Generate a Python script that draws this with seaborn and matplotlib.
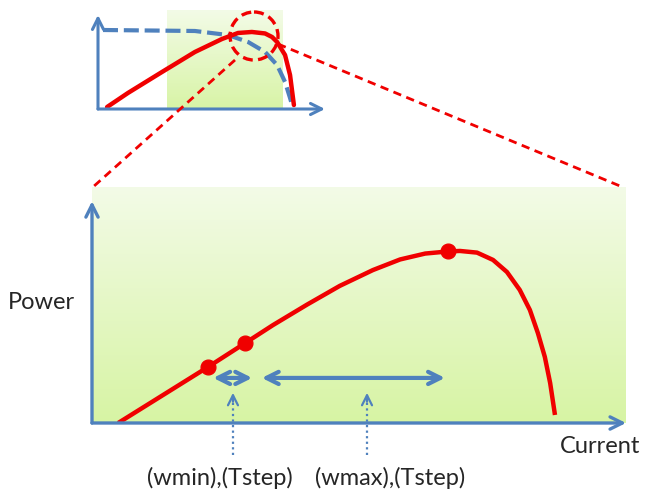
import numpy as np
import pandas as pd
import matplotlib.pyplot as plt
import seaborn as sns
from matplotlib.colors import LinearSegmentedColormap
from matplotlib.patches import Circle

sns.set_style('white')
plt.rcParams['font.family'] = ['Lato', 'DejaVu Sans']

# Main (zoomed) power curve, current and power in % of the axes range
main_current = [4.9, 12.7, 21.7, 28.7, 33.9, 40.3, 46.4, 52.6, 57.7, 62.4,
                66.7, 68.9, 72.1, 75.1, 77.7, 80.1, 82.0, 83.5, 84.8, 85.8, 86.7]
main_power = [0.0, 11.0, 23.7, 33.9, 41.5, 50.2, 58.1, 64.8, 69.3, 71.8,
              72.7, 72.9, 72.2, 69.1, 64.0, 56.4, 47.9, 38.1, 28.0, 16.9, 3.4]

# Marked operating points on the main curve
dot_current = [21.7, 28.7, 66.7]
dot_power = [23.7, 33.9, 72.7]

# Step ranges (wmin / wmax) drawn as double arrows
step_level = 19.1
wmin_range = [22.7, 30.0]
wmax_range = [31.8, 66.1]
pointer_current = [26.4, 51.5]
pointer_labels = ['(wmin),(Tstep)', '(wmax),(Tstep)']

# Small overview: power curve and voltage (dashed) curve
ov_power_current = [4.0, 13.2, 28.2, 42.7, 54.6, 61.7, 67.8, 73.6, 76.7, 78.9,
                    82.4, 84.6, 85.9, 86.3]
ov_power = [2.0, 16.2, 37.4, 57.6, 70.7, 76.8, 77.8, 76.3, 72.7, 67.7,
            54.5, 34.3, 11.1, 4.0]
ov_volt_current = [2.2, 42.7, 57.3, 66.1, 73.6, 78.9, 82.4, 84.6, 85.5]
ov_volt = [79.8, 78.8, 74.7, 67.7, 57.6, 44.4, 27.3, 11.1, 4.0]
ov_zoom_window = [30.4, 81.1]

RED = '#f00000'
BLUE = '#4f81bd'
TXT = '#262626'
green_cmap = LinearSegmentedColormap.from_list('g', ['#f3fbe7', '#d7f4a4'])
grad = np.linspace(0, 1, 200).reshape(-1, 1)

W, H = 648, 494
fig = plt.figure(figsize=(W / 100, H / 100), dpi=100)


def box(x0, y0, x1, y1):
    # pixel box (top-left origin) -> figure fraction rect
    return [x0 / W, 1 - y1 / H, (x1 - x0) / W, (y1 - y0) / H]


# ---- main chart ----
ax = fig.add_axes(box(92, 187, 626, 423))
ax.set_xlim(0, 100)
ax.set_ylim(0, 100)
ax.imshow(grad, extent=[0, 100, 0, 100], cmap=green_cmap, aspect='auto', zorder=0)
ax.axis('off')

main_df = pd.DataFrame({'Current': main_current, 'Power': main_power})
sns.lineplot(data=main_df, x='Current', y='Power', sort=False, color=RED,
             linewidth=3.2, ax=ax, zorder=3, solid_joinstyle='round',
             solid_capstyle='butt')
sns.scatterplot(x=dot_current, y=dot_power, color=RED, s=115, edgecolor=RED,
                ax=ax, zorder=4)

axis_arrow = dict(arrowstyle='->', color=BLUE, lw=2.4, mutation_scale=22,
                  shrinkA=0, shrinkB=0)
ax.annotate('', xy=(0, 0.94), xytext=(0, 0), xycoords='axes fraction',
            arrowprops=axis_arrow, annotation_clip=False)
ax.annotate('', xy=(1.0, 0), xytext=(0, 0), xycoords='axes fraction',
            arrowprops=axis_arrow, annotation_clip=False)

step_arrow = dict(arrowstyle='<->', color=BLUE, lw=3, mutation_scale=22,
                  shrinkA=0, shrinkB=0)
for rng in (wmin_range, wmax_range):
    ax.annotate('', xy=(rng[1], step_level), xytext=(rng[0], step_level),
                arrowprops=step_arrow)

for xc in pointer_current:
    ax.plot([xc, xc], [-13.6, 11.5], color=BLUE, lw=1.6, ls=(0, (1, 1.5)),
            clip_on=False, zorder=3)
    ax.annotate('', xy=(xc, 12.8), xytext=(xc, 9.0),
                arrowprops=dict(arrowstyle='->', color=BLUE, lw=1.6,
                                mutation_scale=18, shrinkA=0, shrinkB=0))

# ---- overview chart ----
ax2 = fig.add_axes(box(98, 10, 325, 109))
ax2.set_xlim(0, 100)
ax2.set_ylim(0, 100)
ax2.imshow(grad, extent=[ov_zoom_window[0], ov_zoom_window[1], -3, 100],
           cmap=green_cmap, aspect='auto', zorder=0)
ax2.axis('off')
sns.lineplot(x=ov_volt_current, y=ov_volt, sort=False, color=BLUE, lw=3,
             ax=ax2, zorder=2).lines[-1].set_dashes([3.6, 1.4])
sns.lineplot(x=ov_power_current, y=ov_power, sort=False, color=RED, lw=3.2,
             ax=ax2, zorder=3, solid_joinstyle='round')
small_arrow = dict(arrowstyle='->', color=BLUE, lw=2.2, mutation_scale=20,
                   shrinkA=0, shrinkB=0)
ax2.annotate('', xy=(0, 0.95), xytext=(0, 0), xycoords='axes fraction',
             arrowprops=small_arrow, annotation_clip=False)
ax2.annotate('', xy=(1.0, 0), xytext=(0, 0), xycoords='axes fraction',
             arrowprops=small_arrow, annotation_clip=False)

# ---- overlay: zoom circle, connectors, labels ----
ov = fig.add_axes([0, 0, 1, 1], zorder=10)
ov.set_xlim(0, W)
ov.set_ylim(H, 0)
ov.patch.set_alpha(0)
ov.axis('off')
ov.add_patch(Circle((254, 36), 24, fill=False, ec=RED, lw=2.4, ls=(0, (3, 1.6))))
ov.plot([235, 93], [60, 187], color=RED, lw=2, ls=(0, (3, 2)))
ov.plot([278, 620], [44, 186], color=RED, lw=2, ls=(0, (3, 2)))

ov.text(8, 302, 'Power', fontsize=17, va='center', ha='left', color=TXT)
ov.text(560, 446, 'Current', fontsize=17, va='center', ha='left', color=TXT)
ov.text(220, 478, pointer_labels[0], fontsize=17, va='center', ha='center', color=TXT)
ov.text(390, 478, pointer_labels[1], fontsize=17, va='center', ha='center', color=TXT)

fig.savefig('out.png', dpi=100)
